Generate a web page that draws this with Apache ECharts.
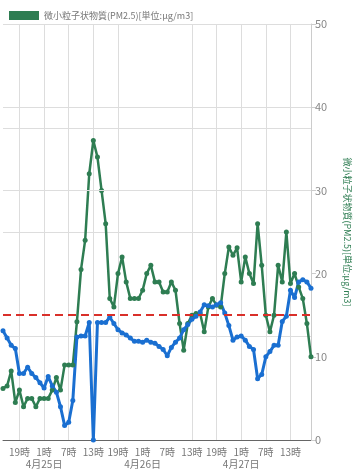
<!DOCTYPE html>
<html><head><meta charset="utf-8">
<script src="https://cdn.jsdelivr.net/npm/echarts@6/dist/echarts.min.js"></script>
<style>html,body{margin:0;padding:0;background:#fff}#c{width:360px;height:474px}</style>
</head><body><div id="c"></div>
<script>
// hourly categories: 4/24 15時 .. 4/27 18時 (76 points)
const categories = [];
(function(){let d=24,h=15;for(let i=0;i<76;i++){categories.push('4月'+d+'日'+h+'時');h++;if(h===24){h=0;d++;}}})();

const tickIndex = [4,10,16,22,28,34,40,46,52,58,64,70];
const tickLabels = ['19時','1時\n4月25日','7時','13時','19時','1時\n4月26日','7時','13時','19時','1時\n4月27日','7時','13時'];
const gridIndex = [4,10,16,22,28,46,52,58,64,70];

const pmName = '微小粒子状物質(PM2.5)[単位:μg/m3]';
const pm25 = [6.2,6.5,8.3,4.5,6.0,4.0,5.0,5.0,4.0,5.0,5.0,5.0,6.0,7.5,6.0,9.0,9.0,9.0,14.2,20.5,
  24,32,36,34,30,26,17,16,20,22,19,17,17,17,18,20,21,19,19,17.8,
  17.8,19,18,14,10.8,14,15,15.2,15.2,13,16,17,16.2,16,20,23.2,22.2,23.1,19,22,
  20,18.8,26,21,15,13,15,21,19,25,18.8,20,18.4,17,14,10];
const otherName = 'その他';
const other = [10.5,9.8,9.1,8.8,6.4,6.4,7.0,6.4,6.0,5.5,5.0,6.1,5.2,4.6,3.2,1.4,1.7,3.8,9.9,10.0,
  10.0,11.3,0,11.3,11.3,11.3,11.8,11.2,10.6,10.3,10.1,9.8,9.5,9.5,9.4,9.6,9.4,9.3,9.0,8.7,
  8.1,8.9,9.4,9.8,10.6,11.1,11.6,11.9,12.3,13.0,12.9,12.8,13.0,13.2,12.2,11.0,9.6,9.9,10.0,9.6,
  9.0,8.7,5.9,6.3,8.0,8.5,9.1,9.1,11.4,11.9,14.4,13.7,15.2,15.4,15.2,14.6];
const standard = 15;
const rightGrid = [30,40];

const chart = echarts.init(document.getElementById('c'));
chart.setOption({
  animation:false,
  textStyle:{fontFamily:'"Noto Sans CJK JP","Noto Sans",sans-serif'},
  legend:{data:[pmName],left:4,top:6,icon:'rect',itemWidth:30,itemHeight:9,itemGap:8,
    textStyle:{color:'#777',fontSize:9}},
  grid:{left:-1,right:43,top:24,bottom:34,containLabel:false},
  xAxis:{type:'category',data:categories,boundaryGap:false,
    axisLine:{lineStyle:{color:'#666'}},axisTick:{show:false},
    axisLabel:{interval:0,hideOverlap:false,showMinLabel:true,
      formatter:(v,i)=>{const k=tickIndex.indexOf(i);return k>=0?tickLabels[k]:'';},
      color:'#777',fontSize:10,lineHeight:12,margin:6},
    splitLine:{show:true,interval:(i)=>gridIndex.includes(i),lineStyle:{color:'#ddd'}}},
  yAxis:[
    {type:'value',position:'left',min:0,max:40,interval:10,
      axisLabel:{show:false},axisLine:{show:false},axisTick:{show:false},
      splitLine:{show:true,lineStyle:{color:'#ddd'}}},
    {type:'value',position:'right',min:0,max:50,interval:10,
      axisLine:{show:true,lineStyle:{color:'#ccc'}},
      axisTick:{show:true,length:5,lineStyle:{color:'#ccc'}},
      axisLabel:{color:'#888',fontSize:11,margin:4},
      splitLine:{show:false},
      name:pmName,nameLocation:'middle',nameRotate:-90,nameGap:32,
      nameTextStyle:{color:'#2e7d52',fontSize:9}}
  ],
  series:[
    {name:'grid',type:'line',yAxisIndex:1,data:[],z:0,silent:true,
      markLine:{silent:true,symbol:'none',label:{show:false},
        lineStyle:{color:'#ddd',type:'solid',width:1},
        data:rightGrid.map(v=>({yAxis:v}))}},
    {name:pmName,type:'line',yAxisIndex:1,data:pm25,
      symbol:'circle',symbolSize:5,showSymbol:true,showAllSymbol:true,
      itemStyle:{color:'#2e7d52'},lineStyle:{color:'#2e7d52',width:2.5},
      markLine:{silent:true,symbol:'none',label:{show:false},
        lineStyle:{color:'#d9302a',type:[8,5],width:2},
        data:[{yAxis:standard}]}},
    {name:otherName,type:'line',yAxisIndex:0,data:other,
      symbol:'circle',symbolSize:5,showSymbol:true,showAllSymbol:true,
      itemStyle:{color:'#1a6fd1'},lineStyle:{color:'#1a6fd1',width:3}}
  ]
});
</script></body></html>
